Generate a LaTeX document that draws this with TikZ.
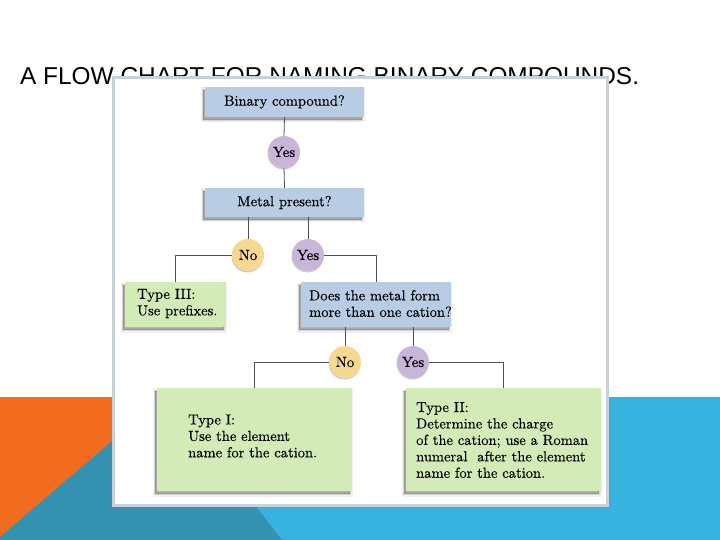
\documentclass[tikz,border=0pt]{standalone}
\usepackage{fontspec}
\newfontfamily\titlefont{Liberation Sans}
\newfontfamily\boxfont{lmroman10-regular.otf}[FakeBold=0.35]
\usetikzlibrary{shadows}
\definecolor{bgorange}{HTML}{F26C1F}
\definecolor{bgteal}{HTML}{3591B0}
\definecolor{bgblue}{HTML}{38B2DF}
\definecolor{frame}{HTML}{C8D2DA}
\definecolor{qblue}{HTML}{B8CDE3}
\definecolor{lav}{HTML}{C9B5DA}
\definecolor{yel}{HTML}{F6D98E}
\definecolor{grn}{HTML}{D3EBB7}
\definecolor{lnk}{HTML}{505050}
\tikzset{
  boxshadow/.style={
    drop shadow={shadow xshift=-2bp, shadow yshift=-3bp, fill=black, fill opacity=0.08, draw=black, draw opacity=0.06, line width=5bp},
    drop shadow={shadow xshift=-2bp, shadow yshift=-3bp, fill=black, fill opacity=0.1, draw=black, draw opacity=0.1, line width=2bp},
    drop shadow={shadow xshift=-2bp, shadow yshift=-3bp, fill=black, fill opacity=0.15, draw=none}},
  qbox/.style={fill=qblue, boxshadow, inner sep=0pt},
  gbox/.style={fill=grn, boxshadow, inner sep=0pt},
  yescirc/.style={circle, fill=lav, minimum size=32bp, inner sep=0pt, font=\boxfont\fontsize{14.8}{16.5}\selectfont,
    drop shadow={shadow xshift=-0.5bp, shadow yshift=-1.5bp, fill=black, opacity=0.2}},
  nocirc/.style={yescirc, fill=yel},
  txt/.style={font=\boxfont\fontsize{14.6}{16.5}\selectfont, align=left, inner sep=0pt, text=black},
  link/.style={draw=lnk, line width=0.8bp},
}
\begin{document}
\begin{tikzpicture}[x=1bp,y=-1bp]
\useasboundingbox (0,0) rectangle (720,540);
\fill[white] (0,0) rectangle (720,540);
% background shapes
\fill[bgorange] (0,397) rectangle (300,540);
\fill[bgteal] (0,537) -- (160,400) -- (320,400) -- (320,540) -- (0,540) -- cycle;
\fill[bgblue] (172,397) -- (720,397) -- (720,540) -- (282,540) -- cycle;
% title
\node[anchor=base west, inner sep=0pt, font=\titlefont\fontsize{24.5}{30}\selectfont] (title) at (20,85) {A FLOW CHART FOR NAMING BINARY COMPOUNDS.};
% picture frame
\draw[frame, line width=3bp, fill=white] (113,78) rectangle (607,505);
% nodes
\node[qbox, minimum width=159bp, minimum height=30bp] (bin) at (284.5,102) {};
\node[txt] (bintxt) at (284.5,102) {Binary compound?};
\node[yescirc] (yes1) at (284,152) {Yes};
\node[qbox, minimum width=159bp, minimum height=29bp] (metal) at (284.5,202.5) {};
\node[txt] (metaltxt) at (284.5,202.5) {Metal present?};
\node[nocirc] (no1) at (248,255) {No};
\node[yescirc] (yes2) at (308,255) {Yes};
\node[gbox, minimum width=101bp, minimum height=45bp] (t3) at (175.5,304.5) {};
\node[txt, anchor=west] (t3txt) at (137,303.5) {Type III:\\Use prefixes.};
\node[qbox, minimum width=150bp, minimum height=45bp] (does) at (376,304.5) {};
\node[txt, anchor=west] (doestxt) at (309,303.5) {Does the metal form\\more than one cation?};
\node[nocirc] (no2) at (345,362) {No};
\node[yescirc] (yes3) at (413,362) {Yes};
\node[gbox, minimum width=195bp, minimum height=103bp] (t1) at (254.5,439.5) {};
\node[txt, anchor=west] (t1txt) at (188,436) {Type I:\\Use the element\\name for the cation.};
\node[gbox, minimum width=195bp, minimum height=103bp] (t2) at (503.5,439.5) {};
\node[txt, anchor=west] (t2txt) at (416,440) {Type II:\\Determine the charge\\of the cation; use a Roman\\numeral\ \ after the element\\name for the cation.};
% connectors
\draw[link] (bin.south) -- (yes1.north);
\draw[link] (yes1.south) -- (metal.north);
\draw[link] (no1.north) -- (no1.north |- metal.south);
\draw[link] (yes2.north) -- (yes2.north |- metal.south);
\draw[link] (no1.west) -| (t3.north);
\draw[link] (yes2.east) -| (does.north);
\draw[link] (no2.north) -- (no2.north |- does.south);
\draw[link] (yes3.north) -- (yes3.north |- does.south);
\draw[link] (no2.west) -| (t1.north);
\draw[link] (yes3.east) -| (t2.north);
\end{tikzpicture}
\end{document}
